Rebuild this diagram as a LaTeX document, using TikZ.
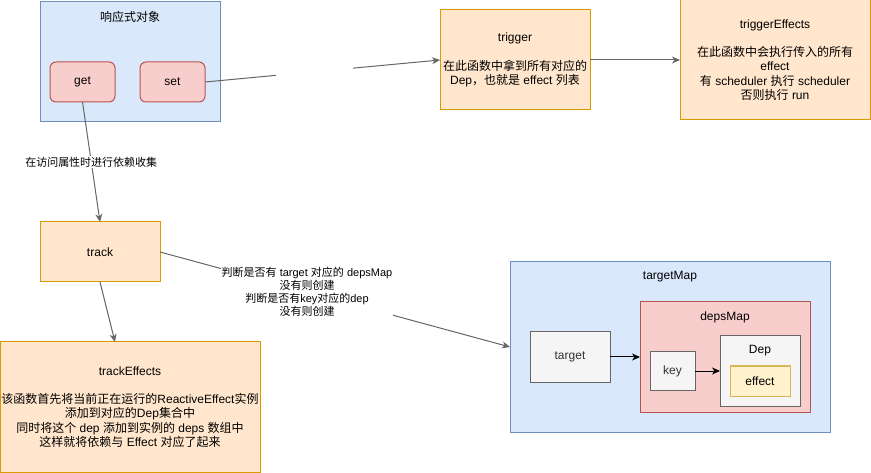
\documentclass[tikz,border=0pt]{standalone}
\usepackage{fontspec}
\setmainfont{Liberation Sans}
\newfontfamily\cjkfont{Noto Sans CJK SC}
\usetikzlibrary{calc,arrows.meta}

% switch to the CJK font for Han characters
\XeTeXinterchartokenstate=1
\newXeTeXintercharclass\cjkclass
\count255="4E00
\loop
  \XeTeXcharclass\count255=\cjkclass
  \ifnum\count255<"9FFF \advance\count255 by 1 \repeat
\XeTeXcharclass"FF0C=\cjkclass
\XeTeXcharclass"3001=\cjkclass
\XeTeXcharclass"3002=\cjkclass
\XeTeXinterchartoks 0 \cjkclass = {\begingroup\cjkfont}
\XeTeXinterchartoks 4095 \cjkclass = {\begingroup\cjkfont}
\XeTeXinterchartoks \cjkclass 0 = {\endgroup}
\XeTeXinterchartoks \cjkclass 4095 = {\endgroup}

\definecolor{bluefill}{HTML}{DAE8FC}
\definecolor{blueline}{HTML}{6C8EBF}
\definecolor{redfill}{HTML}{F8CECC}
\definecolor{redline}{HTML}{B85450}
\definecolor{orangefill}{HTML}{FFE6CC}
\definecolor{orangeline}{HTML}{D79B00}
\definecolor{grayfill}{HTML}{F5F5F5}
\definecolor{grayline}{HTML}{666666}
\definecolor{graytext}{HTML}{333333}
\definecolor{yellowfill}{HTML}{FFF2CC}
\definecolor{yellowline}{HTML}{D6B656}
\definecolor{edgegray}{HTML}{666666}

\begin{document}
\begin{tikzpicture}[x=1pt,y=-1pt,inner sep=0pt,outer sep=0pt,
    every node/.style={font=\fontsize{12}{14.4}\selectfont},
    bluebox/.style={draw=blueline, fill=bluefill, line width=1pt, anchor=north west},
    redbox/.style={draw=redline, fill=redfill, line width=1pt, anchor=north west},
    orangebox/.style={draw=orangeline, fill=orangefill, line width=1pt, anchor=north west, align=center},
    graybox/.style={draw=grayline, fill=grayfill, line width=1pt, anchor=north west, text=graytext},
    yellowbox/.style={draw=yellowline, fill=yellowfill, line width=1pt, anchor=north west},
    edge/.style={draw=edgegray, line width=1pt, -{Stealth[length=8pt,width=7pt,inset=2.5pt]}},
    blackedge/.style={draw=black, line width=1pt, -{Stealth[length=8pt,width=7pt,inset=2.5pt]}},
    edgelabel/.style={fill=white, inner sep=1pt, align=center, font=\fontsize{11}{13}\selectfont}]
    \useasboundingbox (0,0) rectangle (871,473);

    % reactive object
    \node[bluebox, minimum width=180, minimum height=120] (reactive) at (40,2) {};
    \node (reactive_cap) at ($(reactive.north) + (0,15)$) {响应式对象};
    \node[redbox, rounded corners=6, minimum width=65, minimum height=40] (get) at (50,62) {get};
    \node[redbox, rounded corners=6, minimum width=65, minimum height=40] (set) at (140,62) {set};

    % trigger
    \node[orangebox, minimum width=150, minimum height=100] (trigger) at (440,10)
    {trigger\\[14pt]在此函数中拿到所有对应的\\Dep，也就是 effect 列表};
    \node[orangebox, minimum width=190, minimum height=120] (trigger_effects) at (680,0)
    {triggerEffects\\[14pt]在此函数中会执行传入的所有\\effect\\有 scheduler 执行 scheduler\\否则执行 run};

    % track
    \node[orangebox, minimum width=120, minimum height=60] (track) at (40,222) {track};
    \node[orangebox, minimum width=260, minimum height=130] (track_effects) at (0,342)
    {trackEffects\\[14pt]该函数首先将当前正在运行的ReactiveEffect实例\\添加到对应的Dep集合中\\同时将这个 dep 添加到实例的 deps 数组中\\这样就将依赖与 Effect 对应了起来};

    % targetMap
    \node[bluebox, minimum width=320, minimum height=170] (target_map) at (510,262) {};
    \node (target_map_cap) at ($(target_map.north) + (0,15)$) {targetMap};
    \node[graybox, minimum width=80, minimum height=50] (target) at (530,332) {target};
    \node[redbox, minimum width=170, minimum height=110] (deps_map) at (640,302) {};
    \node (deps_map_cap) at ($(deps_map.north) + (0,15)$) {depsMap};
    \node[graybox, minimum width=45, minimum height=38] (key) at (650,352) {key};
    \node[graybox, minimum width=80, minimum height=70] (dep_box) at (720,336) {};
    \node (dep_box_cap) at ($(dep_box.north) + (0,15)$) {Dep};
    \node[yellowbox, minimum width=60, minimum height=30] (effect) at (730,366) {effect};

    % connectors
    \draw[edge] (set.east) -- node[pos=0.466, fill=white, minimum width=77, minimum height=14] (set_gap) {} (trigger.west);
    \draw[edge] (trigger) -- (trigger_effects);
    \draw[edge] (get.south) -- node[edgelabel] (get_cap) {在访问属性时进行依赖收集} (track.north);
    \draw[edge] (track.south) -- ($(track_effects.north west) + (115,0)$);
    \draw[edge] (track.east) -- node[edgelabel, pos=0.42] (track_cap)
    {判断是否有 target 对应的 depsMap\\没有则创建\\判断是否有key对应的dep\\没有则创建} (target_map.west);
    \draw[blackedge] (target) -- (deps_map);
    \draw[blackedge] (key) -- (dep_box);

\end{tikzpicture}
\end{document}
